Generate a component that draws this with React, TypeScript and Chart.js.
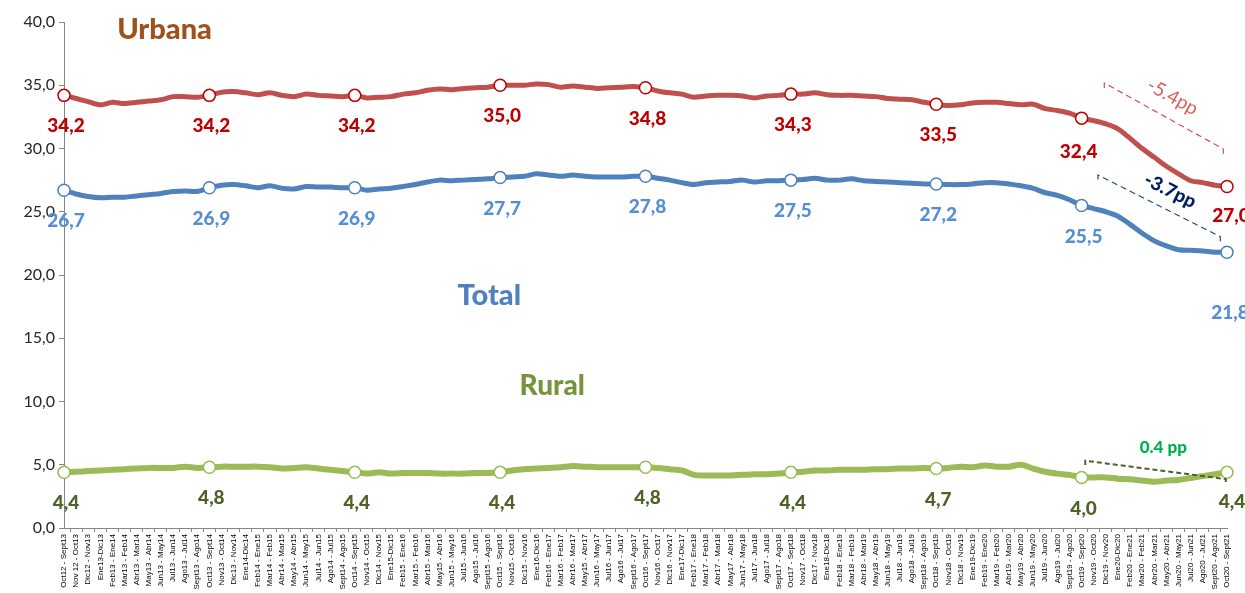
import React, { useEffect, useRef } from "react";
import { Chart, registerables } from "chart.js";
Chart.register(...registerables);

const categories = [
  "Oct12 - Sept13", "Nov 12 - Oct13", "Dic12 - Nov13", "Ene13-Dic13", "Feb13 - Ene14", "Mar13 - Feb14",
  "Abr13 - Mar14", "May13 - Abr14", "Jun13 - May14", "Jul13 - Jun14", "Ago13 - Jul14", "Sept13 - Ago14",
  "Oct13 - Sept14", "Nov13 - Oct14", "Dic13 - Nov14", "Ene14-Dic14", "Feb14 - Ene15", "Mar14 - Feb15",
  "Abr14 - Mar15", "May14 - Abr15", "Jun14 - May15", "Jul14 - Jun15", "Ago14 - Jul15", "Sept14 - Ago15",
  "Oct14 - Sept15", "Nov14 - Oct15", "Dic14 - Nov15", "Ene15-Dic15", "Feb15 - Ene16", "Mar15 - Feb16",
  "Abr15 - Mar16", "May15 - Abr16", "Jun15 - May16", "Jul15 - Jun16", "Ago15 - Jul16", "Sept15 - Ago16",
  "Oct15 - Sept16", "Nov15 - Oct16", "Dic15 - Nov16", "Ene16-Dic16", "Feb16 - Ene17", "Mar16 - Feb17",
  "Abr16 - Mar17", "May15 - Abr17", "Jun16 - May17", "Jul16 - Jun17", "Ago16 - Jul17", "Sept16 - Ago17",
  "Oct16 - Sept17", "Nov16 - Oct17", "Dic16 - Nov17", "Ene17-Dic17", "Feb17 - Ene18", "Mar17 - Feb18",
  "Abr17 - Mar18", "May17 - Abr18", "Jun17 - May18", "Jul17 - Jun18", "Ago17 - Jul18", "Sept17 - Ago18",
  "Oct17 - Sept18", "Nov17 - Oct18", "Dic17 - Nov18", "Ene18-Dic18", "Feb18 - Ene19", "Mar18 - Feb19",
  "Abr18 - Mar19", "May18 - Abr19", "Jun18 - May19", "Jul18 - Jun19", "Ago18 - Jul19", "Sept18 - Ago19",
  "Oct18 - Sept19", "Nov18 - Oct19", "Dic18 - Nov19", "Ene19-Dic19", "Feb19 - Ene20", "Mar19 - Feb20",
  "Abr19 - Mar20", "May19 - Abr20", "Jun19 - May20", "Jul19 - Jun20", "Ago19 - Jul20", "Sept19 - Ago20",
  "Oct19 - Sept20", "Nov19 - Oct20", "Dic19 - Nov20", "Ene20-Dic20", "Feb20 - Ene21", "Mar20 - Feb21",
  "Abr20 - Mar21", "May20 - Abr21", "Jun20 - May21", "Jul20 - Jun21", "Ago20 - Jul21", "Sept20 - Ago21",
  "Oct20 - Sept21",
];

const urbana = [
  34.2, 33.95, 33.7, 33.45, 33.65, 33.55, 33.65, 33.75, 33.85, 34.1, 34.1, 34.05,
  34.2, 34.45, 34.5, 34.4, 34.25, 34.4, 34.2, 34.1, 34.3, 34.2, 34.15, 34.1,
  34.2, 34.0, 34.05, 34.1, 34.3, 34.4, 34.6, 34.7, 34.65, 34.75, 34.8, 34.85,
  35.0, 35.0, 35.0, 35.1, 35.05, 34.85, 34.95, 34.85, 34.75, 34.8, 34.85, 34.9,
  34.8, 34.55, 34.4, 34.3, 34.05, 34.15, 34.2, 34.2, 34.15, 34.0, 34.15, 34.2,
  34.3, 34.3, 34.4, 34.25, 34.2, 34.2, 34.15, 34.1, 33.95, 33.9, 33.85, 33.65,
  33.5, 33.4, 33.45, 33.6, 33.65, 33.65, 33.55, 33.45, 33.5, 33.15, 33.0, 32.8,
  32.4, 32.2, 31.95, 31.55, 30.8, 30.0, 29.3, 28.6, 28.0, 27.45, 27.3, 27.1,
  27.0,
];

const total = [
  26.7, 26.4, 26.2, 26.1, 26.15, 26.15, 26.25, 26.35, 26.45, 26.6, 26.65, 26.6,
  26.9, 27.1, 27.15, 27.05, 26.9, 27.05, 26.85, 26.8, 27.0, 26.95, 26.95, 26.9,
  26.9, 26.7, 26.8, 26.85, 27.0, 27.15, 27.35, 27.5, 27.45, 27.5, 27.55, 27.6,
  27.7, 27.75, 27.8, 28.0, 27.9, 27.8, 27.9, 27.8, 27.75, 27.75, 27.75, 27.8,
  27.8, 27.65, 27.5, 27.3, 27.15, 27.3, 27.35, 27.4, 27.5, 27.35, 27.45, 27.45,
  27.5, 27.55, 27.65, 27.5, 27.5, 27.6, 27.45, 27.4, 27.35, 27.3, 27.25, 27.2,
  27.2, 27.15, 27.15, 27.2, 27.3, 27.3, 27.2, 27.05, 26.85, 26.5, 26.3, 25.95,
  25.5, 25.25, 25.0, 24.65, 24.0, 23.3, 22.7, 22.3, 22.0, 21.95, 21.9, 21.8,
  21.8,
];

const rural = [
  4.4, 4.45, 4.5, 4.55, 4.6, 4.65, 4.7, 4.75, 4.75, 4.75, 4.85, 4.75,
  4.8, 4.85, 4.85, 4.85, 4.85, 4.8, 4.7, 4.75, 4.8, 4.7, 4.6, 4.5,
  4.4, 4.3, 4.4, 4.3, 4.35, 4.35, 4.35, 4.3, 4.3, 4.3, 4.35, 4.35,
  4.4, 4.55, 4.65, 4.7, 4.75, 4.8, 4.9, 4.85, 4.8, 4.8, 4.8, 4.8,
  4.8, 4.75, 4.65, 4.55, 4.2, 4.15, 4.15, 4.15, 4.2, 4.25, 4.25, 4.3,
  4.4, 4.45, 4.55, 4.55, 4.6, 4.6, 4.6, 4.65, 4.65, 4.7, 4.7, 4.75,
  4.7, 4.75, 4.85, 4.8, 4.95, 4.85, 4.85, 5.0, 4.7, 4.45, 4.3, 4.2,
  4.0, 4.0, 4.0, 3.9, 3.85, 3.75, 3.65, 3.75, 3.8, 3.95, 4.1, 4.25,
  4.4,
];

const labeledIdx = [0, 12, 24, 36, 48, 60, 72, 84, 96];

const C_URB = "#C0504D";
const C_URB_MK = "#C00000";
const C_TOT = "#4F81BD";
const C_RUR = "#9BBB59";

const fmt = (v: number) => v.toFixed(1).replace(".", ",");

export default function App() {
  const ref = useRef<HTMLCanvasElement>(null);
  useEffect(() => {
    document.body.style.margin = "0";
    const radius = categories.map((_, i) => (labeledIdx.includes(i) ? 6 : 0));

    const labelStyle = [
      { color: "#C00000", offs: { 84: [-3, 34], 96: [4, 29] } as Record<number, number[]> },
      { color: "#558ED5", offs: { 96: [3, 61] } as Record<number, number[]> },
      { color: "#4F6228", offs: { 96: [5, 30] } as Record<number, number[]> },
    ];

    const annot = {
      id: "annot",
      afterDatasetsDraw(chart: any) {
        const { ctx, scales } = chart;
        const xs = scales.x;
        const ys = scales.y;
        const P = (i: number, v: number) => [xs.getPixelForValue(i), ys.getPixelForValue(v)];
        ctx.save();
        ctx.textAlign = "center";
        ctx.textBaseline = "middle";
        labelStyle.forEach((st, d) => {
          const meta = chart.getDatasetMeta(d);
          const data = chart.data.datasets[d].data as number[];
          ctx.fillStyle = st.color;
          ctx.font = "900 19px Lato";
          labeledIdx.forEach((i) => {
            const pt = meta.data[i];
            const o = st.offs[i] || [2, 31];
            ctx.fillText(fmt(data[i]), pt.x + o[0], pt.y + o[1]);
          });
        });
        const title = (t: string, i: number, v: number, color: string, size: number) => {
          const [px, py] = P(i, v);
          ctx.fillStyle = color;
          ctx.font = `900 ${size}px Lato`;
          ctx.fillText(t, px, py);
        };
        title("Urbana", 8.3, 39.4, "#A0501A", 29);
        title("Total", 35.1, 18.4, "#4F81BD", 29);
        title("Rural", 40.3, 11.2, "#77933C", 28);

        const bracket = (
          a: number[], b: number[], ta: number, tb: number,
          color: string, width: number, dash: number[]
        ) => {
          const [x1, y1] = P(a[0], a[1]);
          const [x2, y2] = P(b[0], b[1]);
          const [, y1t] = P(a[0], ta);
          const [, y2t] = P(b[0], tb);
          ctx.strokeStyle = color;
          ctx.lineWidth = width;
          ctx.setLineDash(dash);
          ctx.beginPath();
          ctx.moveTo(x1, y1t);
          ctx.lineTo(x1, y1);
          ctx.lineTo(x2, y2);
          ctx.lineTo(x2, y2t);
          ctx.stroke();
        };
        bracket([85.87, 35.18], [95.7, 29.96], 34.78, 29.57, "#D0504D", 1.2, [6, 4]);
        bracket([85.35, 27.9], [95.45, 23.03], 27.55, 22.63, "#1F497D", 1.2, [6, 4]);
        bracket([84.3, 5.32], [95.9, 3.87], 4.98, 3.6, "#4F6228", 2, [5, 3]);
        ctx.setLineDash([]);

        const rotText = (t: string, i: number, v: number, ang: number, font: string, color: string) => {
          const [px, py] = P(i, v);
          ctx.save();
          ctx.translate(px, py);
          ctx.rotate((ang * Math.PI) / 180);
          ctx.font = font;
          ctx.fillStyle = color;
          ctx.fillText(t, 0, 0);
          ctx.restore();
        };
        rotText("-5.4pp", 91.5, 34.07, 29, "19px Lato", "#D8605A");
        rotText("-3.7pp", 91.3, 26.66, 26, "900 19px Lato", "#002060");
        rotText("0.4 pp", 90.74, 6.4, 0, "900 17px Lato", "#00B050");
        ctx.restore();
      },
    };

    const chart = new Chart(ref.current!, {
      type: "line",
      data: {
        labels: categories,
        datasets: [
          {
            label: "Urbana",
            data: urbana,
            borderColor: C_URB,
            borderWidth: 5,
            tension: 0.3,
            pointRadius: radius,
            pointBackgroundColor: "#FFFFFF",
            pointBorderColor: C_URB_MK,
            pointBorderWidth: 1.5,
          },
          {
            label: "Total",
            data: total,
            borderColor: C_TOT,
            borderWidth: 5,
            tension: 0.3,
            pointRadius: radius,
            pointBackgroundColor: "#FFFFFF",
            pointBorderColor: C_TOT,
            pointBorderWidth: 1.5,
          },
          {
            label: "Rural",
            data: rural,
            borderColor: C_RUR,
            borderWidth: 6,
            tension: 0.3,
            pointRadius: radius,
            pointBackgroundColor: "#FFFFFF",
            pointBorderColor: C_RUR,
            pointBorderWidth: 1.5,
          },
        ],
      },
      options: {
        responsive: false,
        animation: false,
        layout: { padding: { top: 22, right: 18, bottom: 0, left: 0 } },
        plugins: { legend: { display: false }, tooltip: { enabled: false } },
        scales: {
          x: {
            offset: false,
            grid: { display: true, drawOnChartArea: false, offset: true, tickLength: 4, color: "#868686" },
            border: { color: "#868686", width: 1 },
            ticks: {
              autoSkip: false,
              maxRotation: 90,
              minRotation: 90,
              padding: 2,
              color: "#000000",
              font: { family: "Liberation Sans", size: 8 },
            },
            afterFit: (s: any) => { s.height = 65; },
          },
          y: {
            min: 0,
            max: 40,
            ticks: {
              stepSize: 5,
              padding: 4,
              color: "#262626",
              font: { family: "Lato", size: 16 },
              callback: (v: any) => fmt(Number(v)),
            },
            grid: { display: true, drawOnChartArea: false, tickLength: 5, color: "#868686" },
            border: { color: "#868686", width: 1 },
            afterFit: (s: any) => { s.width = 64; },
          },
        },
      },
      plugins: [annot],
    });
    return () => chart.destroy();
  }, []);
  return (
    <div style={{ width: 1245, height: 593 }}>
      <canvas ref={ref} width={1245} height={593} />
    </div>
  );
}
